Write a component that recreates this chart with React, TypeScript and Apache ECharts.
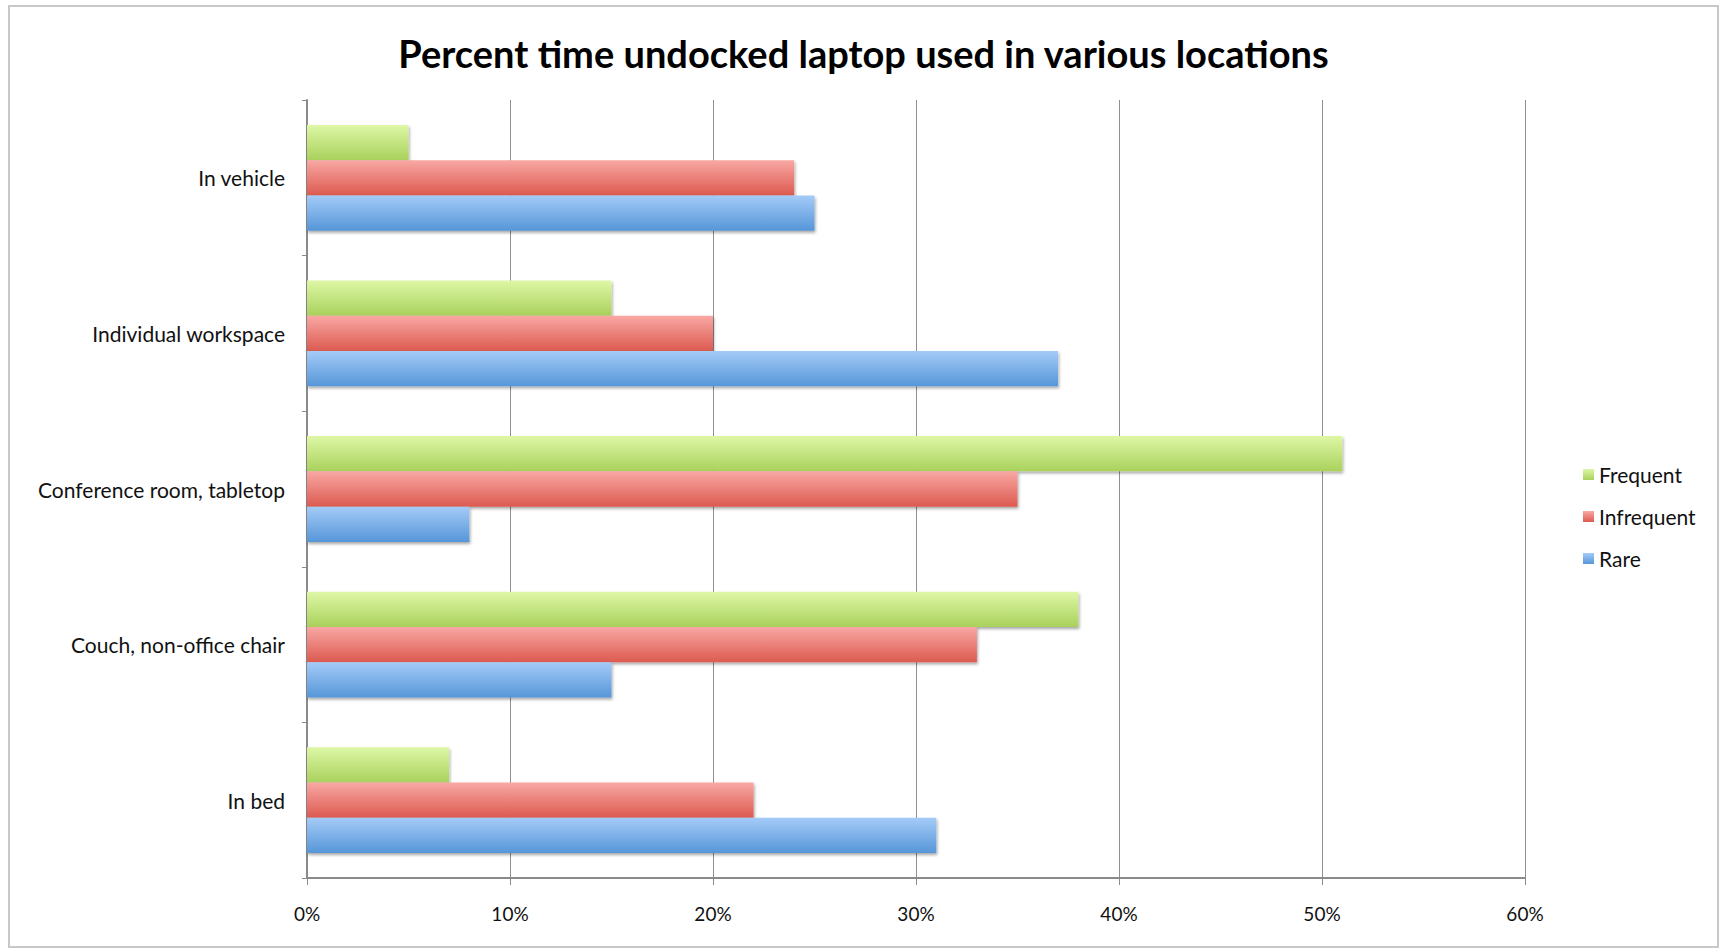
import React, { useEffect, useRef } from "react";
import * as echarts from "echarts";

const categories = [
  "In bed",
  "Couch, non-office chair",
  "Conference room, tabletop",
  "Individual workspace",
  "In vehicle",
];
const frequent = [7, 38, 51, 15, 5];
const infrequent = [22, 33, 35, 20, 24];
const rare = [31, 15, 8, 37, 25];
const xTicks = [0, 10, 20, 30, 40, 50, 60];

const FONT = "Lato, 'Open Sans', sans-serif";

function grad(top: string, bottom: string) {
  return new echarts.graphic.LinearGradient(0, 0, 0, 1, [
    { offset: 0, color: top },
    { offset: 1, color: bottom },
  ]);
}

export default function App() {
  const ref = useRef<HTMLDivElement>(null);
  useEffect(() => {
    if (!ref.current) return;
    const chart = echarts.init(ref.current, undefined, { renderer: "svg" });
    const barStyle = (top: string, bottom: string) => ({
      color: grad(top, bottom),
      shadowColor: "rgba(0,0,0,0.35)",
      shadowBlur: 3,
      shadowOffsetY: 2,
      shadowOffsetX: 1,
    });
    chart.setOption({
      animation: false,
      backgroundColor: "#ffffff",
      title: {
        text: "Percent time undocked laptop used in various locations",
        left: "center",
        top: 29,
        textStyle: {
          fontFamily: FONT,
          fontWeight: "bold",
          fontSize: 38,
          color: "#000",
        },
      },
      legend: {
        orient: "vertical",
        left: 1578,
        top: 459,
        itemWidth: 11,
        itemHeight: 11,
        itemGap: 21,
        icon: "rect",
        data: ["Frequent", "Infrequent", "Rare"],
        textStyle: { fontFamily: FONT, fontSize: 21, color: "#111" },
      },
      grid: { left: 307, right: 202, top: 100, bottom: 72, containLabel: false },
      xAxis: {
        type: "value",
        min: 0,
        max: 60,
        interval: 10,
        axisLine: { show: true, lineStyle: { color: "#8a8a8a", width: 2 } },
        axisTick: { show: true, length: 7, lineStyle: { color: "#8a8a8a" } },
        splitLine: { show: true, lineStyle: { color: "#8f8f8f", width: 1 } },
        axisLabel: {
          formatter: (v: number) => (xTicks.includes(v) ? v + "%" : ""),
          fontFamily: FONT,
          fontSize: 19,
          color: "#111",
          margin: 26,
        },
      },
      yAxis: {
        type: "category",
        data: categories,
        axisLine: { show: true, lineStyle: { color: "#8a8a8a", width: 2 } },
        axisTick: { show: true, length: 5, lineStyle: { color: "#8a8a8a" } },
        axisLabel: {
          fontFamily: FONT,
          fontSize: 21,
          color: "#111",
          margin: 22,
          padding: [4, 0, 0, 0],
        },
      },
      series: [
        {
          name: "Frequent",
          type: "bar",
          data: frequent,
          barGap: "0%",
          barCategoryGap: "32%",
          itemStyle: barStyle("#def7a6", "#a9d15c"),
        },
        {
          name: "Infrequent",
          type: "bar",
          data: infrequent,
          barGap: "0%",
          barCategoryGap: "32%",
          itemStyle: barStyle("#f9a8a4", "#dc5a50"),
        },
        {
          name: "Rare",
          type: "bar",
          data: rare,
          barGap: "0%",
          barCategoryGap: "32%",
          itemStyle: barStyle("#a4cbf8", "#5696d8"),
        },
      ],
      graphic: [
        {
          type: "rect",
          shape: { x: 9, y: 6, width: 1709, height: 941 },
          style: { fill: "none", stroke: "#c8c8c8", lineWidth: 2 },
          silent: true,
        },
      ],
    });
    return () => chart.dispose();
  }, []);
  return (
    <div
      ref={ref}
      style={{ position: "absolute", left: 0, top: 0, width: 1727, height: 950 }}
    />
  );
}
